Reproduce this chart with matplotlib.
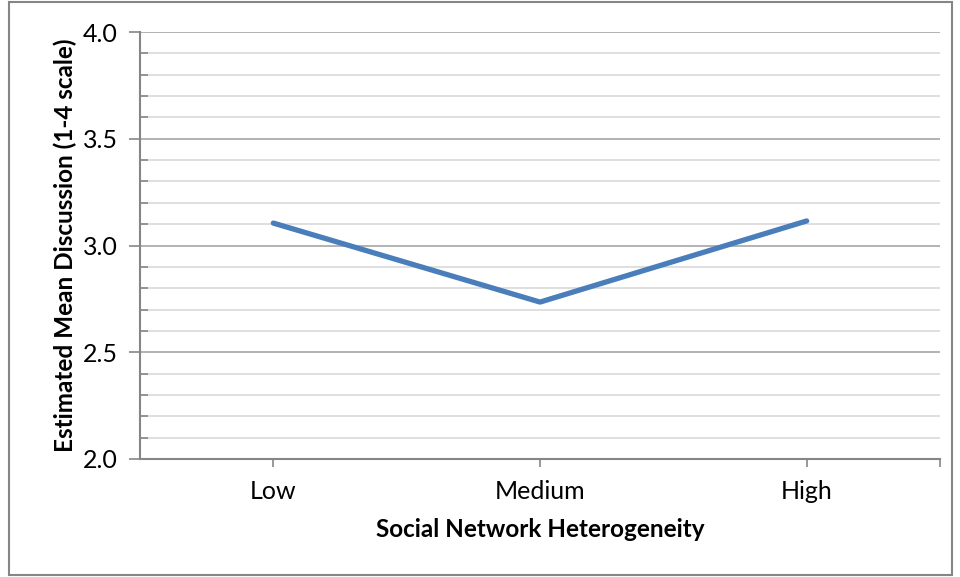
import matplotlib
matplotlib.use("Agg")
import matplotlib.pyplot as plt
from matplotlib.patches import Rectangle
from matplotlib.ticker import MultipleLocator

plt.rcParams['font.family'] = ['Lato', 'DejaVu Sans']

categories = ['Low', 'Medium', 'High']
mean_discussion = [3.105, 2.735, 3.115]

fig = plt.figure(figsize=(9.6, 5.77), dpi=100)
ax = fig.add_axes([140/960, 1 - 459/577, 800/960, 427/577])

x = list(range(len(categories)))
ax.plot(x, mean_discussion, color='#4a7ebb', lw=3.8, solid_capstyle='round', zorder=3)

ax.set_xlim(-0.5, 2.5)
ax.set_ylim(2.0, 4.0)
ax.yaxis.set_major_locator(MultipleLocator(0.5))
ax.yaxis.set_minor_locator(MultipleLocator(0.1))
ax.yaxis.set_major_formatter(matplotlib.ticker.FormatStrFormatter('%.1f'))
ax.grid(which='major', axis='y', color='#a6a6a6', lw=1.2)
ax.grid(which='minor', axis='y', color='#d9d9d9', lw=1.2)
ax.set_axisbelow(True)

ax.set_xticks(x + [2.5])
ax.set_xticklabels(categories + [''])
ax.tick_params(axis='x', length=6, width=1.2, color='#868686', labelsize=18, pad=9)
ax.tick_params(axis='y', which='major', length=8, width=1.2, color='#868686', labelsize=18, pad=8)
ax.tick_params(axis='y', which='minor', direction='in', length=6, width=1.2, color='#868686')

for side in ['top', 'right']:
    ax.spines[side].set_visible(False)
for side in ['left', 'bottom']:
    ax.spines[side].set_color('#868686')
    ax.spines[side].set_linewidth(1.5)

ax.set_xlabel('Social Network Heterogeneity', fontsize=17.5, fontweight='bold', labelpad=11)
ax.set_ylabel('Estimated Mean Discussion (1-4 scale)', fontsize=17.5, fontweight='bold', labelpad=4)

fig.patches.append(Rectangle((9/960, 2/577), 943/960, 573/577, transform=fig.transFigure,
                             fill=False, edgecolor='#868686', lw=1.5))

fig.savefig('out.png', dpi=100)
